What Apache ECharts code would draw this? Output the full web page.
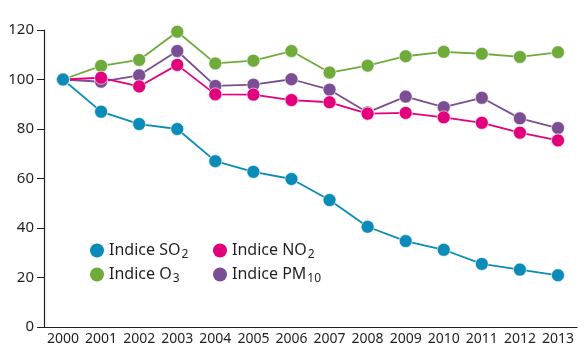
<!DOCTYPE html>
<html><head><meta charset="utf-8">
<script src="https://cdn.jsdelivr.net/npm/echarts@6/dist/echarts.min.js"></script>
<style>html,body{margin:0;padding:0;background:#fff}#c{width:585px;height:357px}</style>
</head><body><div id="c"></div>
<script>
const years = ['2000','2001','2002','2003','2004','2005','2006','2007','2008','2009','2010','2011','2012','2013'];
const so2  = [100, 87, 82, 80, 67, 62.7, 59.8, 51.3, 40.5, 34.7, 31.2, 25.5, 23.2, 20.9];
const no2  = [100, 100.7, 97.2, 105.9, 94, 93.9, 91.7, 90.8, 86.2, 86.5, 84.7, 82.5, 78.5, 75.4];
const o3   = [100, 105.5, 107.9, 119.3, 106.5, 107.6, 111.5, 102.8, 105.6, 109.4, 111.2, 110.4, 109.1, 111];
const pm10 = [100, 99.1, 101.7, 111.5, 97.4, 97.9, 100.1, 95.9, 86.7, 93.1, 88.8, 92.6, 84.3, 80.4];
const yTicks = [0, 20, 40, 60, 80, 100, 120];

const FONT = '"Noto Sans", sans-serif';
const TXT = '#231f20';
const colors = {so2:'#0a8bb8', no2:'#e2007c', o3:'#6fab3b', pm10:'#7b4e94'};
const names = {so2:'Indice SO2', no2:'Indice NO2', o3:'Indice O3', pm10:'Indice PM10'};
const subs = {so2:['Indice SO','2'], no2:['Indice NO','2'], o3:['Indice O','3'], pm10:['Indice PM','10']};
const nameToKey = {}; Object.keys(names).forEach(k => nameToKey[names[k]] = k);

function mk(key, data){
  return {
    name: names[key], type:'line', data: data,
    symbol:'circle', symbolSize:13,
    lineStyle:{color:colors[key], width:1.8},
    itemStyle:{color:colors[key], borderColor:'rgba(255,255,255,0.6)', borderWidth:1},
    emphasis:{disabled:true}
  };
}
const legendText = {
  fontFamily: FONT, fontSize: 16, color:TXT,
  rich: {
    m:{fontFamily:FONT, fontSize:16, color:TXT, lineHeight:20},
    s:{fontFamily:FONT, fontSize:12, color:TXT, lineHeight:12, padding:[9,0,0,1]}
  }
};
const fmt = n => { const s = subs[nameToKey[n]]; return '{m|' + s[0] + '}{s|' + s[1] + '}'; };

const chart = echarts.init(document.getElementById('c'), null, {renderer:'canvas'});
chart.setOption({
  animation:false,
  backgroundColor:'#fff',
  grid:{left:44, right:8, top:30, bottom:30},
  legend:[
    {data:[names.so2, names.o3], orient:'vertical', left:85, top:235, itemWidth:14, itemHeight:14, itemGap:3, itemStyle:{borderWidth:0}, icon:'circle', formatter:fmt, textStyle:legendText},
    {data:[names.no2, names.pm10], orient:'vertical', left:208, top:235, itemWidth:14, itemHeight:14, itemGap:3, itemStyle:{borderWidth:0}, icon:'circle', formatter:fmt, textStyle:legendText}
  ],
  xAxis:{
    type:'category', data:years, boundaryGap:true,
    axisLine:{lineStyle:{color:TXT, width:1.2}},
    axisTick:{inside:true, length:7, lineStyle:{color:TXT}},
    axisLabel:{fontFamily:FONT, fontSize:14, color:TXT, margin:5, interval:0}
  },
  yAxis:{
    type:'value', min:0, max:120, interval:20,
    axisLine:{show:true, lineStyle:{color:TXT, width:1.2}},
    axisTick:{show:true, length:7, lineStyle:{color:TXT}},
    splitLine:{show:false},
    axisLabel:{fontFamily:FONT, fontSize:15, color:TXT, margin:10,
      formatter: v => yTicks.includes(v) ? String(v) : ''}
  },
  series:[ mk('o3', o3), mk('pm10', pm10), mk('no2', no2), mk('so2', so2) ]
});
</script></body></html>
